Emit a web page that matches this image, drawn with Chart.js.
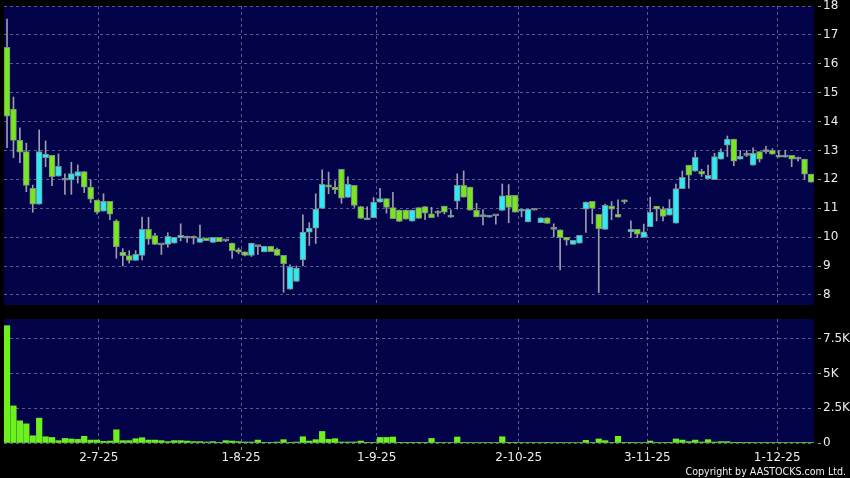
<!DOCTYPE html>
<html>
<head>
<meta charset="utf-8">
<script src="https://cdn.jsdelivr.net/npm/chart.js@4.4.0/dist/chart.umd.min.js"></script>
<style>
  html, body { margin: 0; padding: 0; background: #000; }
  #wrap { position: relative; width: 850px; height: 478px; overflow: hidden; background: #000; }
  #priceBox { position: absolute; left: 0; top: 0; }
  #volBox { position: absolute; left: 0; top: 310px; }
  #copy { position: absolute; right: 4px; top: 465px; line-height: 13px; color: #f0f0f0;
          font: 10.6px 'DejaVu Sans Condensed', 'DejaVu Sans', sans-serif; white-space: nowrap; }
</style>
</head>
<body>
<div id="wrap">
  <div id="priceBox"><canvas id="priceChart" width="850" height="310"></canvas></div>
  <div id="volBox"><canvas id="volChart" width="850" height="168"></canvas></div>
  <div id="copy">Copyright by AASTOCKS.com Ltd.</div>
</div>
<script>
// Daily candles, one per trading day (index 0 = first day)
const opens = [16.57, 14.43, 13.35, 12.96, 11.69, 11.14, 12.75, 12.83, 12.11, 11.97,
  11.98, 12.11, 12.27, 11.73, 11.28, 10.90, 11.24, 10.56, 9.48, 9.36,
  9.19, 9.37, 10.27, 10.05, 9.73, 9.75, 9.79, 9.98, 9.96, 9.96,
  9.82, 9.97, 9.82, 9.99, 9.87, 9.79, 9.57, 9.49, 9.37, 9.67,
  9.49, 9.68, 9.58, 9.37, 8.20, 8.47, 9.21, 10.17, 10.31, 10.99,
  11.81, 11.73, 12.35, 11.37, 11.79, 11.06, 10.60, 10.67, 11.21, 11.33,
  11.02, 10.94, 10.94, 10.55, 11.02, 11.06, 10.81, 10.83, 11.07, 10.69,
  11.24, 11.79, 11.73, 10.93, 10.71, 10.69, 10.74, 10.92, 11.45, 11.45,
  10.90, 10.53, 10.93, 10.50, 10.67, 10.27, 10.25, 9.99, 9.75, 9.79,
  10.97, 11.24, 10.79, 10.27, 11.07, 10.79, 11.29, 10.18, 10.27, 9.99,
  10.36, 11.07, 10.97, 10.76, 10.48, 11.68, 12.49, 12.28, 12.28, 12.02,
  11.99, 12.70, 13.18, 13.39, 12.70, 12.83, 12.49, 12.96, 12.96, 13.00,
  12.83, 12.77, 12.83, 12.70, 12.70, 12.18];
const highs = [17.55, 14.85, 13.78, 13.25, 11.80, 13.71, 13.33, 12.83, 12.88, 12.19,
  12.59, 12.50, 12.27, 11.98, 11.28, 11.50, 11.24, 10.60, 9.60, 9.53,
  9.53, 10.69, 10.69, 10.13, 9.75, 10.15, 9.99, 10.46, 10.04, 10.04,
  10.42, 9.97, 9.99, 9.99, 9.90, 9.79, 9.62, 9.49, 9.79, 9.67,
  9.68, 9.68, 9.62, 9.37, 9.04, 9.00, 10.77, 10.50, 11.50, 12.33,
  12.25, 11.95, 12.35, 12.09, 11.79, 11.06, 11.05, 11.37, 11.69, 11.33,
  11.55, 10.94, 10.94, 10.94, 11.02, 11.06, 11.03, 10.92, 11.07, 10.95,
  12.19, 12.29, 11.73, 11.17, 10.95, 10.74, 10.74, 11.84, 11.82, 11.45,
  10.96, 10.97, 10.93, 10.67, 10.67, 10.46, 10.25, 9.99, 9.89, 10.06,
  11.21, 11.24, 10.79, 11.14, 11.23, 11.29, 11.29, 10.56, 10.27, 10.45,
  11.38, 11.07, 11.05, 11.30, 11.84, 12.29, 12.49, 12.95, 12.35, 12.49,
  12.90, 13.06, 13.50, 13.39, 13.00, 13.00, 13.09, 12.96, 13.14, 13.06,
  12.99, 12.99, 12.83, 12.77, 12.70, 12.18];
const lows = [13.10, 12.75, 12.58, 11.57, 10.86, 11.14, 12.44, 11.78, 12.11, 11.48,
  11.48, 11.87, 11.54, 11.19, 10.80, 10.90, 10.60, 9.27, 9.00, 9.10,
  9.19, 9.21, 9.75, 9.75, 9.40, 9.65, 9.79, 9.87, 9.82, 9.76,
  9.82, 9.88, 9.82, 9.84, 9.84, 9.26, 9.42, 9.35, 9.33, 9.40,
  9.49, 9.50, 9.37, 8.09, 8.20, 8.47, 9.00, 9.71, 9.78, 10.99,
  11.50, 11.50, 11.17, 11.37, 11.03, 10.65, 10.60, 10.67, 11.21, 10.83,
  10.64, 10.54, 10.62, 10.55, 10.65, 10.60, 10.67, 10.72, 10.80, 10.69,
  10.97, 11.38, 10.93, 10.70, 10.42, 10.69, 10.45, 10.92, 10.50, 10.86,
  10.70, 10.53, 10.93, 10.50, 10.47, 10.00, 8.86, 9.72, 9.75, 9.79,
  10.16, 10.46, 8.08, 10.27, 10.60, 10.69, 11.16, 9.98, 9.98, 9.99,
  10.36, 10.56, 10.56, 10.76, 10.48, 11.68, 11.69, 12.28, 12.10, 12.02,
  11.99, 12.70, 12.79, 12.47, 12.70, 12.79, 12.49, 12.60, 12.90, 12.87,
  12.77, 12.77, 12.44, 12.63, 12.00, 11.90];
const closes = [14.19, 13.35, 12.94, 11.79, 11.14, 12.96, 12.87, 12.09, 12.45, 11.97,
  12.20, 12.27, 11.73, 11.31, 10.86, 11.24, 10.79, 9.67, 9.36, 9.19,
  9.40, 10.27, 9.93, 9.75, 9.73, 10.03, 9.99, 10.06, 9.96, 9.96,
  9.96, 9.88, 9.99, 9.84, 9.87, 9.53, 9.48, 9.37, 9.79, 9.67,
  9.68, 9.50, 9.37, 9.08, 8.97, 8.93, 10.17, 10.31, 10.97, 11.83,
  11.73, 11.64, 11.35, 11.83, 11.10, 10.65, 10.67, 11.21, 11.33, 11.03,
  10.64, 10.54, 10.62, 10.94, 10.65, 10.83, 10.67, 10.83, 10.86, 10.76,
  11.79, 11.38, 10.93, 10.70, 10.71, 10.74, 10.74, 11.43, 11.03, 10.86,
  10.96, 10.97, 10.93, 10.67, 10.47, 10.27, 9.98, 9.89, 9.89, 10.06,
  11.21, 10.99, 10.29, 11.10, 10.97, 10.69, 11.22, 10.27, 10.10, 10.18,
  10.86, 10.97, 10.72, 11.00, 11.68, 12.07, 12.14, 12.76, 12.18, 12.14,
  12.79, 12.95, 13.39, 12.63, 12.80, 12.83, 12.90, 12.70, 12.96, 12.87,
  12.77, 12.83, 12.70, 12.70, 12.18, 11.90];
const volumes = [8450, 2670, 1600, 1380, 520, 1790, 450, 400, 170, 330,
  290, 260, 480, 210, 210, 120, 140, 950, 170, 170,
  310, 380, 210, 210, 170, 100, 170, 170, 140, 100,
  100, 70, 100, 50, 170, 140, 100, 70, 70, 210,
  50, 20, 70, 240, 20, 70, 450, 140, 240, 830,
  260, 310, 70, 70, 70, 140, 50, 20, 400, 400,
  430, 50, 20, 20, 20, 20, 330, 50, 30, 30,
  430, 50, 30, 30, 30, 30, 30, 450, 50, 50,
  30, 30, 30, 30, 50, 30, 30, 30, 30, 30,
  190, 30, 290, 170, 30, 480, 50, 20, 30, 30,
  140, 50, 30, 50, 290, 210, 100, 210, 70, 240,
  70, 100, 100, 50, 50, 50, 30, 30, 50, 30,
  30, 30, 30, 30, 50, 30];

// Date axis: tick positions (in trading-day index) and their labels
const tickPositions = [14.26, 36.38, 57.48, 79.57, 99.55, 119.75];
const tickLabels = ['2-7-25', '1-8-25', '1-9-25', '2-10-25', '3-11-25', '1-12-25'];
const priceTicks = [8, 9, 10, 11, 12, 13, 14, 15, 16, 17, 18];
const volumeTicks = [0, 2500, 5000, 7500];

const navy = '#03034a';
const gridColor = '#5a5a8e';
const tickColor = '#9a9a9a';
const labelColor = '#ececec';
const upColor = '#2ee9f8';
const downColor = '#78e81e';
const dojiColor = '#9aa09a';
const labelFont = { family: "'DejaVu Sans', sans-serif", size: 12 };

// Paint the plot background navy
const plotBackground = {
  id: 'plotBackground',
  beforeDraw(chart) {
    const { ctx, chartArea } = chart;
    ctx.save();
    ctx.fillStyle = navy;
    ctx.fillRect(chartArea.left, chartArea.top, chartArea.right - chartArea.left, chartArea.bottom - chartArea.top);
    ctx.restore();
  }
};

const makeXScale = (showLabels) => ({
  type: 'linear',
  min: -0.47,
  max: 125.47,
  offset: false,
  afterBuildTicks: axis => { axis.ticks = tickPositions.map(v => ({ value: v })); },
  ticks: {
    display: showLabels,
    autoSkip: false,
    maxRotation: 0,
    padding: 1,
    color: labelColor,
    font: labelFont,
    callback: (v, i) => tickLabels[i]
  },
  grid: {
    offset: false,
    color: gridColor,
    drawTicks: showLabels,
    tickLength: 7,
    tickColor: tickColor,
    tickBorderDash: [0, 4, 3, 20]
  },
  border: { display: false, dash: [3, 3] },
  afterFit: axis => {
    axis.height = showLabels ? 35 : 0;
    axis.paddingLeft = 0;
    axis.paddingRight = 0;
  }
});

const makeYScale = (min, max, ticks, fmt) => ({
  position: 'right',
  min: min,
  max: max,
  afterBuildTicks: axis => { axis.ticks = ticks.map(v => ({ value: v })); },
  ticks: { color: labelColor, font: labelFont, padding: 2, callback: fmt },
  grid: { color: gridColor, tickLength: 7, tickColor: tickColor, tickBorderDash: [0, 4, 3, 20] },
  border: { display: false, dash: [3, 3] },
  afterFit: axis => {
    axis.width = 36;
    axis.paddingTop = 0;
    axis.paddingBottom = 0;
  }
});

const idx = opens.map((_, i) => i);
const bodyData = idx.map(i => ({ x: i, y: [opens[i], closes[i]] }));
const wickData = idx.map(i => ({ x: i, y: [lows[i], highs[i]] }));
const bodyColors = idx.map(i =>
  closes[i] > opens[i] ? upColor : (closes[i] < opens[i] ? downColor : dojiColor));

new Chart(document.getElementById('priceChart').getContext('2d'), {
  type: 'bar',
  data: {
    datasets: [
      {
        data: bodyData,
        grouped: false,
        barThickness: 6,
        minBarLength: 2,
        backgroundColor: bodyColors,
        borderColor: '#7c8a84',
        borderWidth: 1,
        borderSkipped: false
      },
      {
        data: wickData,
        grouped: false,
        barThickness: 1,
        backgroundColor: '#9c9cac',
        borderWidth: 0
      }
    ]
  },
  options: {
    responsive: false,
    animation: false,
    layout: { padding: { left: 4, top: 6, right: 0, bottom: 5 } },
    plugins: { legend: { display: false }, tooltip: { enabled: false } },
    scales: {
      x: makeXScale(false),
      y: makeYScale(7.65, 18, priceTicks, v => String(v))
    }
  },
  plugins: [plotBackground]
});

new Chart(document.getElementById('volChart').getContext('2d'), {
  type: 'bar',
  data: {
    datasets: [
      {
        data: idx.map(i => ({ x: i, y: volumes[i] })),
        barThickness: 5.6,
        backgroundColor: '#6cf01e',
        borderWidth: 0
      }
    ]
  },
  options: {
    responsive: false,
    animation: false,
    layout: { padding: { left: 4, top: 9, right: 0, bottom: 0 } },
    plugins: { legend: { display: false }, tooltip: { enabled: false } },
    scales: {
      x: makeXScale(true),
      y: makeYScale(0, 8930, volumeTicks, v => (v === 0 ? '0' : (v / 1000) + 'K'))
    }
  },
  plugins: [plotBackground]
});
</script>
</body>
</html>
